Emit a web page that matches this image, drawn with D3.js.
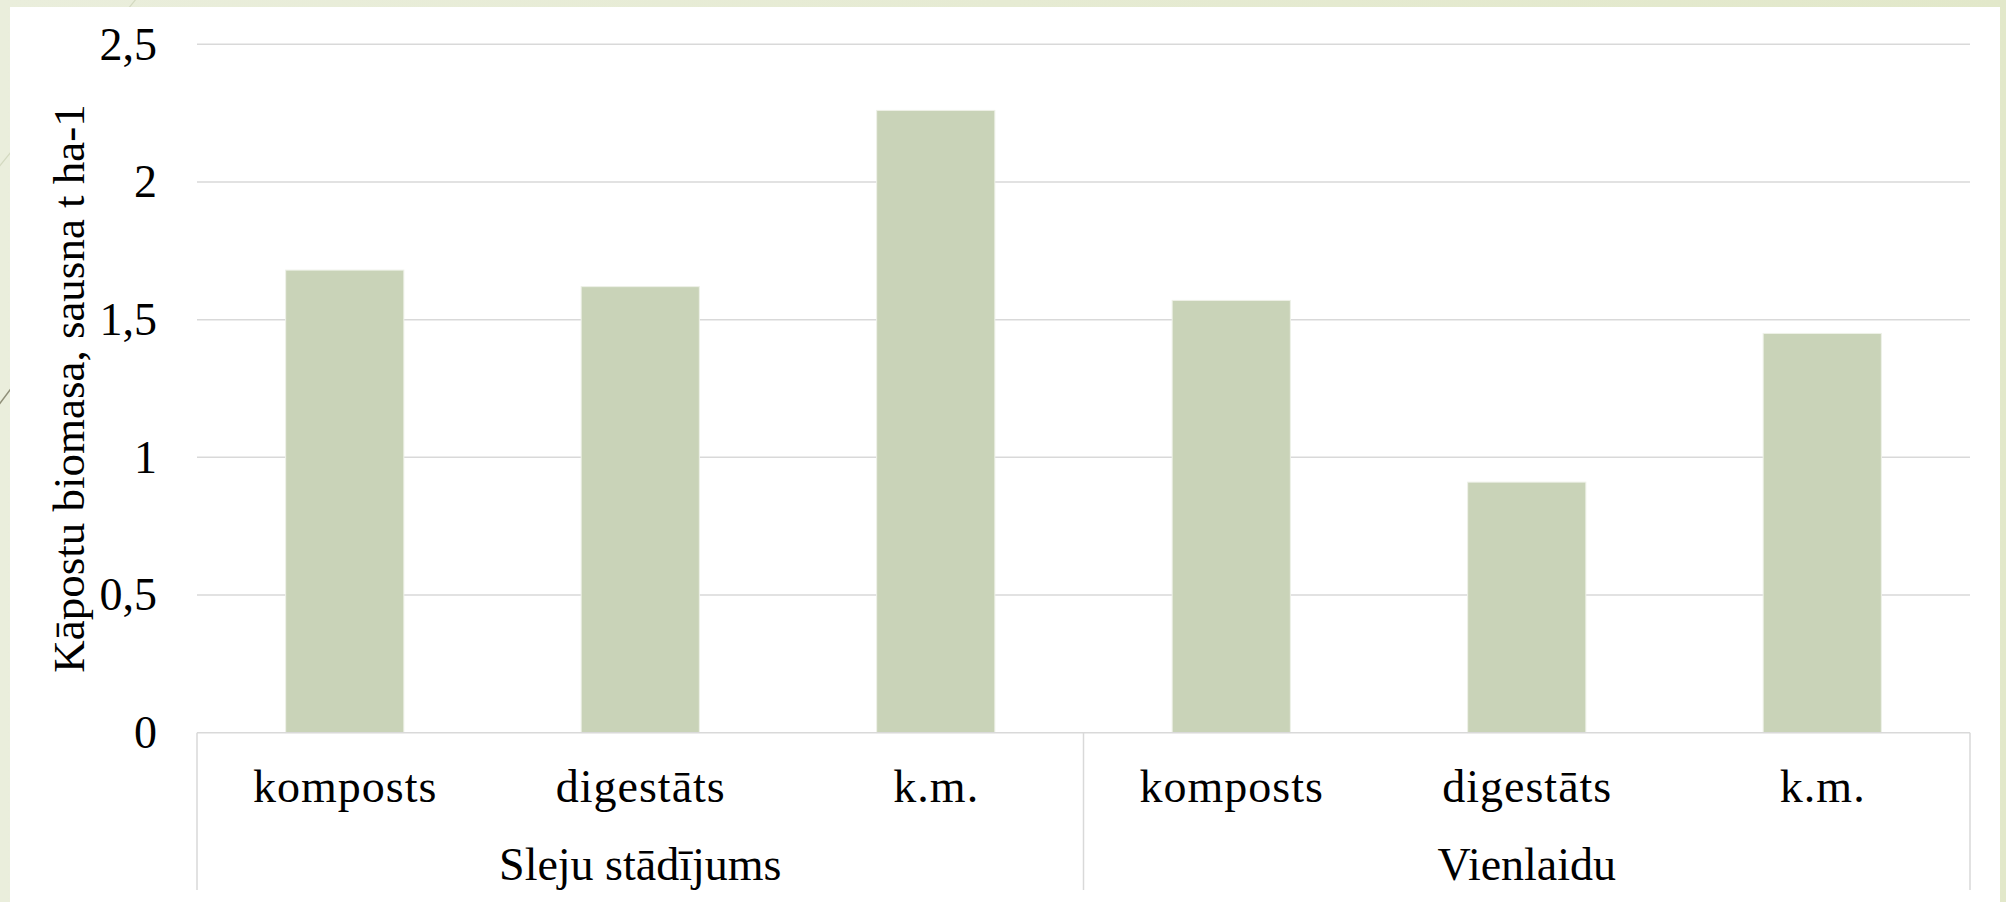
<!DOCTYPE html>
<html>
<head>
<meta charset="utf-8">
<script src="https://cdn.jsdelivr.net/npm/d3@7"></script>
<style>
  html, body { margin: 0; padding: 0; background: #e6ebd2; }
  svg { display: block; }
  text { font-family: "Liberation Serif", "DejaVu Serif", serif; fill: #000; }
</style>
</head>
<body>
<svg id="chart" width="2006" height="902"></svg>
<script>
// Cabbage biomass (dry matter, t/ha) by planting method and fertiliser
const groups = ["Sleju stādījums", "Vienlaidu"];
const treatments = ["komposts", "digestāts", "k.m."];
const slejuValues = [1.68, 1.62, 2.26];
const vienlaiduValues = [1.57, 0.91, 1.45];
const yTicks = [0, 0.5, 1, 1.5, 2, 2.5];
const yTitle = "Kāpostu biomasa, sausna t ha-1";

const seriesByGroup = [slejuValues, vienlaiduValues];
const rows = [];
groups.forEach((g, gi) => {
  treatments.forEach((t, ti) => {
    rows.push({ key: g + "|" + t, group: g, label: t, value: seriesByGroup[gi][ti] });
  });
});

const W = 2006, H = 902;
const plot = { left: 197, right: 1970, top: 44.3, bottom: 732.7 };

const svg = d3.select("#chart");

// slide background with soft gradient
const defs = svg.append("defs");
const grad = defs.append("linearGradient").attr("id", "bg").attr("x1", "0").attr("x2", "1").attr("y1", "0").attr("y2", "0");
grad.append("stop").attr("offset", "0").attr("stop-color", "#eaeedc");
grad.append("stop").attr("offset", "1").attr("stop-color", "#e2e8ca");
svg.append("rect").attr("width", W).attr("height", H).attr("fill", "url(#bg)");

// decorative diagonal strokes of the slide background
svg.append("line").attr("x1", 150).attr("y1", -18).attr("x2", -20).attr("y2", 190)
  .attr("stroke", "#d3d9c0").attr("stroke-width", 1.2);
svg.append("line").attr("x1", 40).attr("y1", 350).attr("x2", -20).attr("y2", 430)
  .attr("stroke", "#8f8f78").attr("stroke-width", 1.5);

// chart panel
svg.append("rect").attr("x", 10).attr("y", 7).attr("width", 1990).attr("height", H - 7).attr("fill", "#fff");

const x = d3.scaleBand()
  .domain(rows.map(d => d.key))
  .range([plot.left, plot.right])
  .paddingInner(0.6)
  .paddingOuter(0.3);

const y = d3.scaleLinear().domain([0, 2.5]).range([plot.bottom, plot.top]);

const lv = d3.formatLocale({ decimal: ",", thousands: " ", grouping: [3], currency: ["", ""] });
const fmt = v => lv.format("")(v);

// gridlines
svg.append("g")
  .selectAll("line")
  .data(yTicks.filter(t => t > 0))
  .join("line")
  .attr("x1", plot.left).attr("x2", plot.right)
  .attr("y1", d => y(d)).attr("y2", d => y(d))
  .attr("stroke", "#d9d9d9").attr("stroke-width", 1.5);

// y axis tick labels
const yAxis = d3.axisLeft(y).tickValues(yTicks).tickFormat(fmt).tickSize(0).tickPadding(40);
const gy = svg.append("g").attr("transform", `translate(${plot.left},0)`).call(yAxis);
gy.select(".domain").remove();
gy.selectAll("text")
  .attr("font-family", "Liberation Serif, DejaVu Serif, serif")
  .attr("font-size", 46).attr("fill", "#000");

// bars
svg.append("g")
  .selectAll("rect")
  .data(rows)
  .join("rect")
  .attr("x", d => x(d.key))
  .attr("width", x.bandwidth())
  .attr("y", d => y(d.value))
  .attr("height", d => y(0) - y(d.value))
  .attr("fill", "#c9d3b8")
  .attr("stroke", "#eef1e8").attr("stroke-width", 1);

// category axis: baseline and group separators
const axisG = svg.append("g");
axisG.append("line")
  .attr("x1", plot.left).attr("x2", plot.right)
  .attr("y1", y(0)).attr("y2", y(0))
  .attr("stroke", "#d9d9d9").attr("stroke-width", 1.5);

const groupBounds = [plot.left, (plot.left + plot.right) / 2, plot.right];
axisG.selectAll("line.sep")
  .data(groupBounds)
  .join("line")
  .attr("class", "sep")
  .attr("x1", d => d).attr("x2", d => d)
  .attr("y1", y(0)).attr("y2", 890)
  .attr("stroke", "#d9d9d9").attr("stroke-width", 1.5);

// treatment labels
axisG.selectAll("text.cat")
  .data(rows)
  .join("text")
  .attr("class", "cat")
  .attr("x", d => x(d.key) + x.bandwidth() / 2 + 0.5)
  .attr("y", 801.5)
  .attr("text-anchor", "middle")
  .attr("font-size", 46)
  .attr("letter-spacing", 1)
  .text(d => d.label);

// group labels
axisG.selectAll("text.grp")
  .data(groups)
  .join("text")
  .attr("class", "grp")
  .attr("x", (d, i) => (groupBounds[i] + groupBounds[i + 1]) / 2)
  .attr("y", 880)
  .attr("text-anchor", "middle")
  .attr("font-size", 46)
  .text(d => d);

// y axis title
svg.append("text")
  .attr("transform", `translate(84,${(plot.top + plot.bottom) / 2}) rotate(-90)`)
  .attr("text-anchor", "middle")
  .attr("font-size", 45)
  .text(yTitle);
</script>
</body>
</html>
